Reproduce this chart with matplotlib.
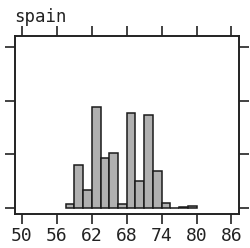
import numpy as np
import matplotlib.pyplot as plt

# histogram of ages, percent of total, bins 1.5 wide
bin_edges = [57.5, 59, 60.5, 62, 63.5, 65, 66.5, 68, 69.5, 71, 72.5, 74, 75.5, 77, 78.5, 80]
percent = [0.8, 8.0, 3.4, 18.8, 9.3, 10.3, 0.75, 17.7, 5.0, 17.3, 6.9, 0.9, 0.0, 0.2, 0.4]
x_ticks = [50, 56, 62, 68, 74, 80, 86]
y_ticks = [0, 10, 20, 30]
panel = 'spain'

fig = plt.figure(figsize=(2.5, 2.48), dpi=100)
ax = fig.add_axes([0.06, 0.137, 0.896, 0.718])

left = np.array(bin_edges[:-1])
width = np.diff(bin_edges)
ax.bar(left, percent, width=width, align='edge', color='#b0b0b0',
       edgecolor='#1a1a1a', linewidth=1.1)

ax.set_xlim(48.8, 87.3)
ax.set_ylim(-1.15, 32.1)
ax.set_xticks(x_ticks)
ax.set_yticks(y_ticks)
ax.tick_params(axis='both', direction='out', length=7, width=1.2, color='#222222',
               top=True, right=True, labeltop=False, labelright=False, labelleft=False)
ax.tick_params(axis='x', labelsize=13, pad=2, labelcolor='#222222')
for lab in ax.get_xticklabels():
    lab.set_family('DejaVu Sans Mono')
for s in ax.spines.values():
    s.set_linewidth(1.4)
    s.set_color('#222222')

fig.text(0.056, 0.895, panel, family='DejaVu Sans Mono', fontsize=12.5,
         color='#222222', ha='left', va='bottom')

fig.savefig('out.png', dpi=100)
